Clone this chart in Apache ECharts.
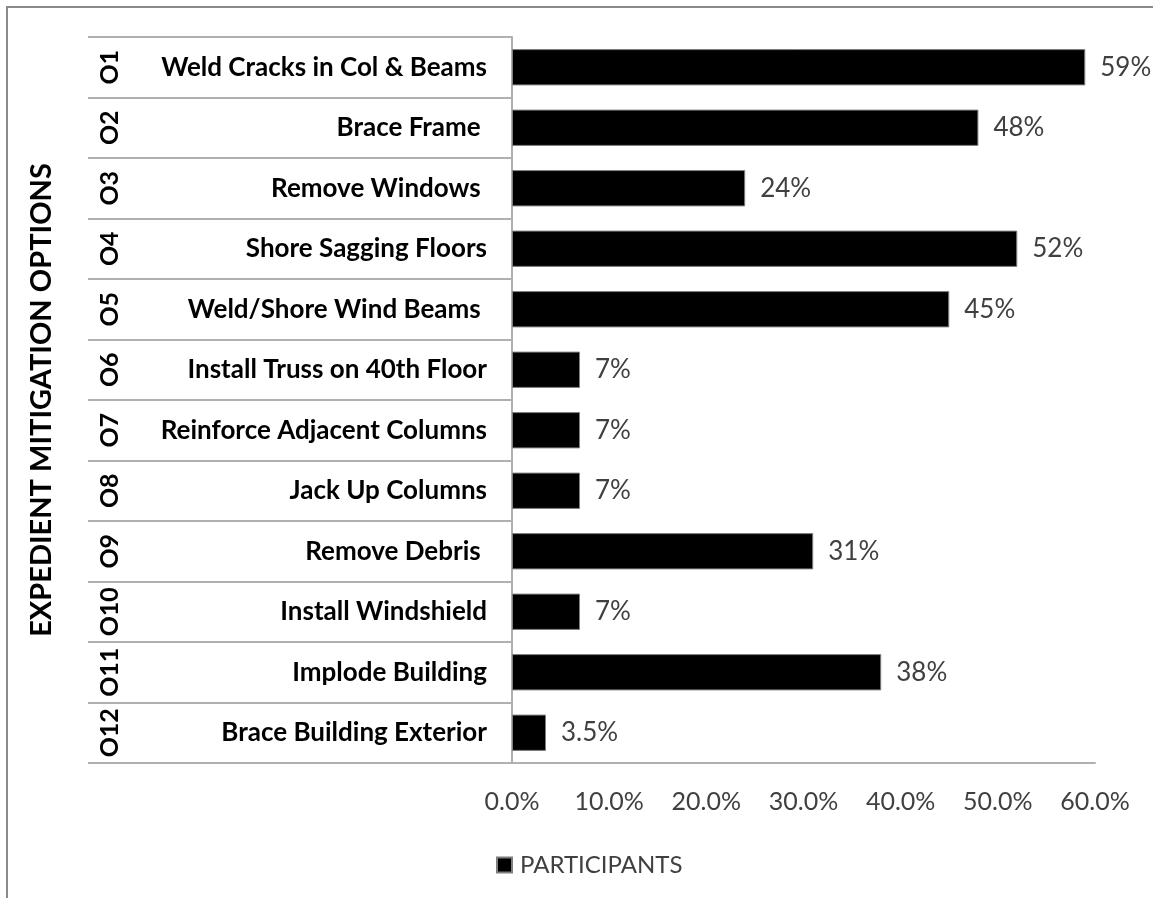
<!DOCTYPE html>
<html>
<head>
<meta charset="utf-8">
<script src="https://cdn.jsdelivr.net/npm/echarts@6/dist/echarts.min.js"></script>
<style>html,body{margin:0;padding:0;background:#fff}#c{width:1153px;height:898px}</style>
</head>
<body>
<div id="c"></div>
<script>
const codes = ['O1','O2','O3','O4','O5','O6','O7','O8','O9','O10','O11','O12'];
const options = ['Weld Cracks in Col & Beams','Brace Frame ','Remove Windows ','Shore Sagging Floors','Weld/Shore Wind Beams ','Install Truss on 40th Floor','Reinforce Adjacent Columns','Jack Up Columns','Remove Debris ','Install Windshield','Implode Building','Brace Building Exterior'];
const participants = [59,48,24,52,45,7,7,7,31,7,38,3.5];
const xTicks = [0,10,20,30,40,50,60];
const seriesName = 'PARTICIPANTS';
const axisTitle = 'EXPEDIENT MITIGATION OPTIONS';

const FONT = 'Lato';
const lineColor = '#b0b0b0';
const chart = echarts.init(document.getElementById('c'), null, {renderer:'canvas'});
chart.setOption({
  animation:false,
  textStyle:{fontFamily:FONT},
  grid:{left:512,right:58,top:37,bottom:135,outerBoundsMode:'none',containLabel:false},
  legend:{
    data:[seriesName], left:491, top:848, icon:'rect', itemWidth:15, itemHeight:15,
    textStyle:{fontFamily:FONT,fontSize:24,color:'#404040',padding:[0,0,0,3]}
  },
  xAxis:{
    type:'value', min:xTicks[0], max:xTicks[xTicks.length-1], interval:10,
    axisLine:{show:true,lineStyle:{color:lineColor,width:2}},
    axisTick:{show:false}, splitLine:{show:false},
    axisLabel:{margin:26,fontFamily:FONT,fontSize:25,color:'#404040',formatter:v=>v.toFixed(1)+'%'}
  },
  yAxis:[{
    type:'category', inverse:true, data:options,
    axisLine:{show:true,lineStyle:{color:lineColor,width:2}},
    axisTick:{show:true,length:424,interval:0,lineStyle:{color:lineColor,width:2}},
    axisLabel:{interval:0,margin:25,fontFamily:FONT,fontSize:26,fontWeight:'bold',color:'#000'}
  },{
    type:'category', inverse:true, data:codes, position:'left',
    axisLine:{show:false}, axisTick:{show:false}, splitLine:{show:false},
    axisLabel:{interval:0,rotate:90,margin:390,fontFamily:FONT,fontSize:25,fontWeight:'bold',color:'#000'}
  }],
  series:[{
    name:seriesName, type:'bar', yAxisIndex:0, data:participants, barWidth:'60%',
    itemStyle:{color:'#000',borderColor:'#7f7f7f',borderWidth:1},
    label:{show:true,position:'right',distance:15,fontFamily:FONT,fontSize:26,color:'#404040',formatter:p=>p.value+'%'}
  }],
  graphic:[
    {type:'rect',shape:{x:7,y:7,width:1300,height:1000},style:{fill:'none',stroke:'#8a8a8a',lineWidth:2},silent:true},
    {type:'text',x:42,y:400,rotation:Math.PI/2,style:{text:axisTitle,fontFamily:FONT,fontSize:29,fontWeight:'bold',fill:'#000',textAlign:'center',textVerticalAlign:'middle'}}
  ]
});
</script>
</body>
</html>
